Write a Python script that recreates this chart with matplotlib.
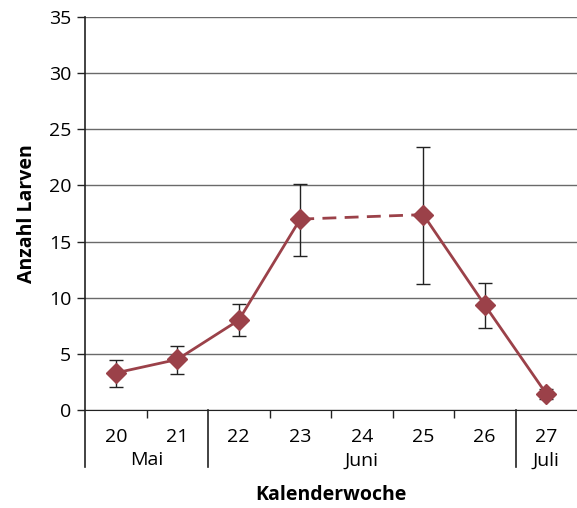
import numpy as np
import matplotlib.pyplot as plt
import matplotlib.transforms as mtransforms

# data
weeks = ["20", "21", "22", "23", "24", "25", "26", "27"]
larvae = [3.3, 4.5, 8.0, 17.0, np.nan, 17.4, 9.35, 1.45]
err_low = [2.05, 3.2, 6.6, 13.7, np.nan, 11.2, 7.3, 1.0]
err_high = [4.45, 5.7, 9.45, 20.1, np.nan, 23.4, 11.3, 1.9]
months = ["Mai", "Juni", "Juli"]
month_pos = [0.5, 4.0, 7.0]
month_bounds = [-0.5, 1.5, 6.5]

plt.rcParams["font.family"] = ["Open Sans", "DejaVu Sans"]

fig = plt.figure(figsize=(5.77, 5.08), dpi=100)
ax = fig.add_axes([85 / 577, 98 / 508, 492 / 577, 393 / 508])

x = np.arange(len(weeks))
y = np.array(larvae)
lo = y - np.array(err_low)
hi = np.array(err_high) - y
color = "#9b4149"

ax.errorbar(x, y, yerr=[lo, hi], fmt="none", ecolor="#222222", elinewidth=1,
            capsize=5, capthick=1, zorder=3)
ax.plot(x, y, color=color, lw=2, zorder=4)
# dashed bridge over the missing week
ax.plot([x[3], x[5]], [y[3], y[5]], color=color, lw=2, ls=(0, (5, 3)), zorder=4)
ax.plot(x, y, ls="none", marker="D", ms=10.5, color=color, zorder=5)

ax.set_xlim(-0.5, 7.5)
ax.set_ylim(0, 35)
ax.set_yticks(range(0, 36, 5))
ax.yaxis.grid(True, color="#6a6a6a", lw=1)
ax.set_axisbelow(True)
for s in ["top", "right"]:
    ax.spines[s].set_visible(False)
ax.spines["left"].set_visible(False)
ax.spines["bottom"].set_color("#222222")
ax.tick_params(axis="y", length=6, width=1, color="#222222", labelsize=14, pad=4)

ax.set_xticks(x)
ax.set_xticklabels(weeks)
ax.tick_params(axis="x", length=0, labelsize=14, pad=13)
ax.set_xticks([0.5, 2.5, 3.5, 4.5, 5.5], minor=True)
ax.tick_params(axis="x", which="minor", length=6, width=1, color="#222222")

# group separators and month labels below the axis
trans = mtransforms.blended_transform_factory(ax.transData, ax.transAxes)
for b in month_bounds:
    ax.plot([b, b], [-0.145, 1.0 if b == -0.5 else 0], transform=trans,
            color="#222222", lw=1.2, clip_on=False)
for m, p in zip(months, month_pos):
    ax.text(p, -0.128, m, transform=trans, ha="center", va="center", fontsize=14)

ax.set_ylabel("Anzahl Larven", fontsize=14, fontweight="bold", labelpad=8)
fig.text((85 + 577) / 2 / 577, 1 - 495 / 508, "Kalenderwoche", ha="center",
         va="center", fontsize=14, fontweight="bold")

plt.savefig("out.png", dpi=100)
